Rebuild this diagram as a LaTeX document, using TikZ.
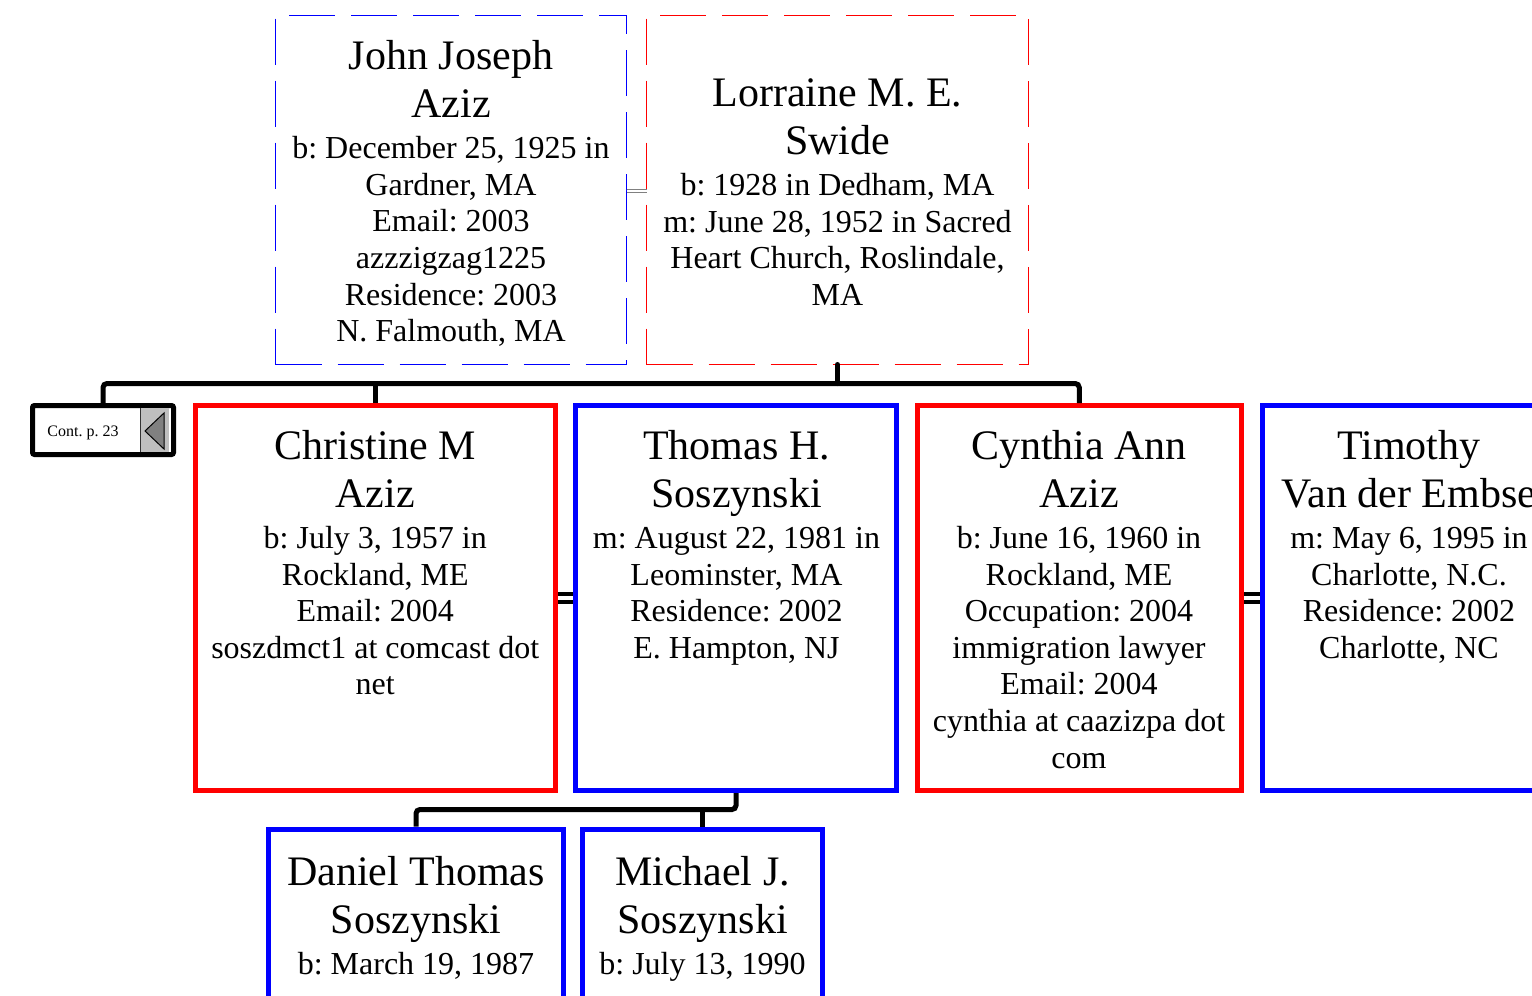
\documentclass[tikz,border=0pt]{standalone}
\usepackage{fontspec}
\setmainfont{Liberation Serif}
\frenchspacing
\newcommand\pname[1]{{\fontsize{42}{47.5}\selectfont #1}}
\newcommand\fstrut{\rule{0pt}{30pt}}
\newcommand\detailfont{\fontsize{32}{36.6}\selectfont\lineskiplimit=-100pt\relax}
\tikzset{
  pbox/.style={rectangle, inner sep=0pt, outer sep=0pt, line width=5pt, fill=white, anchor=north west},
  femalebox/.style={pbox, draw=red},
  malebox/.style={pbox, draw=blue},
  dashbox/.style={rectangle, inner sep=0pt, outer sep=0pt, line width=1.3pt, dash pattern=on 46pt off 16pt, anchor=north west},
  txt/.style={align=center, inner sep=0pt, anchor=north, font=\detailfont},
  famline/.style={line width=5pt, draw=black, rounded corners=4pt},
  marrline/.style={draw=black, line width=4pt, double=white, double distance=4.5pt, shorten <=2.5pt, shorten >=2.5pt},
  toplink/.style={draw=gray, line width=1pt, double=white, double distance=2pt},
  contbox/.style={rectangle, inner sep=0pt, outer sep=0pt, line width=5pt, draw=black, fill=white, rounded corners=2pt, anchor=north west},
}
\begin{document}
\begin{tikzpicture}[x=1pt,y=-1pt]
\useasboundingbox (0,0) rectangle (1532,996);
\fill[white] (0,0) rectangle (1532,996);
\clip (0,0) rectangle (1532,996);

% top couple
\node[dashbox, draw=blue, minimum width=351pt, minimum height=349pt] (john) at (275.5,15.5) {};
\node[dashbox, draw=red, minimum width=382pt, minimum height=349pt] (lor) at (646.5,15.5) {};

% children row
\node[contbox, minimum width=141pt, minimum height=49pt] (cont) at (32.5,405.5) {};
\node[femalebox, minimum width=360.5pt, minimum height=385pt] (chr) at (195,405.5) {};
\node[malebox, minimum width=321pt, minimum height=385pt] (tho) at (575.5,405.5) {};
\node[femalebox, minimum width=324.5pt, minimum height=385pt] (cyn) at (917,405.5) {};
\node[malebox, minimum width=296pt, minimum height=385pt] (tim) at (1262,405.5) {};

% grandchildren
\node[malebox, minimum width=295pt, minimum height=300pt] (dan) at (268.5,829) {};
\node[malebox, minimum width=240pt, minimum height=300pt] (mic) at (582.5,829) {};

% continuation marker
\fill[gray!50] (140,408) rectangle (169,452);
\draw[gray!40!black, line width=0.8pt] (140,408) -- (140,452);
\draw[fill=gray, line width=1pt, line join=miter] (145,431) -- (164,413) -- (164,449) -- cycle;
\node[font=\fontsize{16}{19}\selectfont, anchor=base, inner sep=0pt] (contT) at (83,436.5) {Cont. p. 23};

% texts
\node[txt] (johnT) at (451,39.5) {\pname{\fstrut John Joseph}\\[11.4pt]\pname{Aziz}\\[4.4pt]b: December 25, 1925 in\\Gardner, MA\\Email: 2003\\azzzigzag1225\\Residence: 2003\\N. Falmouth, MA};
\node[txt] (lorT) at (837.5,76.5) {\pname{\fstrut Lorraine M. E.}\\[11.4pt]\pname{Swide}\\[4.4pt]b: 1928 in Dedham, MA\\m: June 28, 1952 in Sacred\\Heart Church, Roslindale,\\MA};
\node[txt] (chrT) at (375.25,429.3) {\pname{\fstrut Christine M}\\[11.4pt]\pname{Aziz}\\[4.4pt]b: July 3, 1957 in\\Rockland, ME\\Email: 2004\\soszdmct1 at comcast dot\\net};
\node[txt] (thoT) at (736.5,429.3) {\pname{\fstrut Thomas H.}\\[11.4pt]\pname{Soszynski}\\[4.4pt]m: August 22, 1981 in\\Leominster, MA\\Residence: 2002\\E. Hampton, NJ};
\node[txt] (cynT) at (1079,429.3) {\pname{\fstrut Cynthia Ann}\\[11.4pt]\pname{Aziz}\\[4.4pt]b: June 16, 1960 in\\Rockland, ME\\Occupation: 2004\\immigration lawyer\\Email: 2004\\cynthia at caazizpa dot\\com};
\node[txt] (timT) at (1409,429.3) {\pname{\fstrut Timothy}\\[11.4pt]\pname{Van der Embse}\\[4.4pt]m: May 6, 1995 in\\Charlotte, N.C.\\Residence: 2002\\Charlotte, NC};
\node[txt] (danT) at (416,855) {\pname{\fstrut Daniel Thomas}\\[11.4pt]\pname{Soszynski}\\[4.4pt]b: March 19, 1987};
\node[txt] (micT) at (702.5,855) {\pname{\fstrut Michael J.}\\[11.4pt]\pname{Soszynski}\\[4.4pt]b: July 13, 1990};

% connectors
\coordinate (famJ) at (837.5,383.5);
\coordinate (kidJ) at (736,809.5);
\draw[famline, shorten <=2.5pt, shorten >=2.5pt] (cont.north) |- (famJ) -| (cyn.north);
\draw[famline, line cap=round] (lor.south) -- (famJ);
\draw[famline, shorten <=2.5pt] (chr.north) -- (chr.north |- famJ);
\draw[famline, shorten <=2.5pt, shorten >=2.5pt] (dan.north) |- (kidJ) -- (tho.south);
\draw[famline, shorten <=2.5pt] (mic.north) -- (mic.north |- kidJ);
\draw[marrline] (chr.east) -- (tho.west);
\draw[marrline] (cyn.east) -- (tim.west);
\draw[toplink] ([yshift=-1pt]john.east) -- ([yshift=-1pt]lor.west);
\end{tikzpicture}
\end{document}
